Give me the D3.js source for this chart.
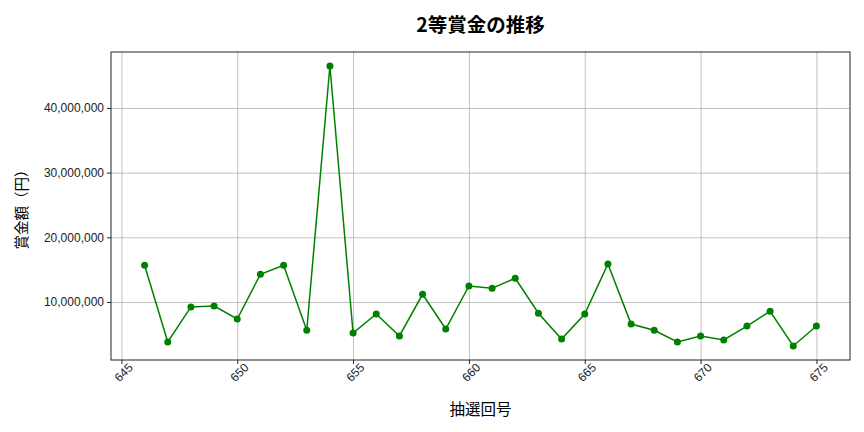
<!DOCTYPE html>
<html>
<head>
<meta charset="utf-8">
<script src="https://cdn.jsdelivr.net/npm/d3@7"></script>
<style>
  body { margin: 0; background: #fff; }
  svg { font-family: "Noto Sans CJK JP", "Noto Sans", sans-serif; }
  .grid line { stroke: #b0b0b0; stroke-width: 0.8; }
  .grid path { display: none; }
  .axis path, .axis line { stroke: #222; }
  .axis text { fill: #222; font-size: 12px; }
</style>
</head>
<body>
<div id="chart"></div>
<script>
// 抽選回
var draws = [646, 647, 648, 649, 650, 651, 652, 653, 654, 655,
             656, 657, 658, 659, 660, 661, 662, 663, 664, 665,
             666, 667, 668, 669, 670, 671, 672, 673, 674, 675];
// 2等賞金 (円)
var prizes = [15680000, 3810000, 9230000, 9380000, 7370000, 14290000, 15680000, 5620000, 46490000, 5200000,
              8140000, 4740000, 11190000, 5820000, 12480000, 12120000, 13670000, 8250000, 4270000, 8140000,
              15880000, 6590000, 5620000, 3810000, 4740000, 4120000, 6280000, 8560000, 3190000, 6280000];
var xTicks = [645, 650, 655, 660, 665, 670, 675];
var yTicks = [10000000, 20000000, 30000000, 40000000];

var W = 864, H = 432;
var margin = { top: 52, right: 14, bottom: 72, left: 111 };
var w = W - margin.left - margin.right;
var h = H - margin.top - margin.bottom;

var svg = d3.select("#chart").append("svg")
    .attr("width", W)
    .attr("height", H);

var g = svg.append("g")
    .attr("transform", "translate(" + margin.left + "," + margin.top + ")");

// matplotlib style 5% margins
var xMin = d3.min(draws), xMax = d3.max(draws);
var xPad = (xMax - xMin) * 0.05;
var x = d3.scaleLinear().domain([xMin - xPad, xMax + xPad]).range([0, w]);

var yMin = d3.min(prizes), yMax = d3.max(prizes);
var yPad = (yMax - yMin) * 0.05;
var y = d3.scaleLinear().domain([yMin - yPad, yMax + yPad]).range([h, 0]);

// grid
g.append("g").attr("class", "grid")
    .attr("transform", "translate(0," + h + ")")
    .call(d3.axisBottom(x).tickValues(xTicks).tickSize(-h).tickFormat(""));
g.append("g").attr("class", "grid")
    .call(d3.axisLeft(y).tickValues(yTicks).tickSize(-w).tickFormat(""));

// line
var line = d3.line()
    .x(function (d, i) { return x(draws[i]); })
    .y(function (d) { return y(d); });

g.append("path")
    .datum(prizes)
    .attr("fill", "none")
    .attr("stroke", "#008000")
    .attr("stroke-width", 1.5)
    .attr("d", line);

g.selectAll("circle.pt")
    .data(prizes)
    .enter()
    .append("circle")
    .attr("class", "pt")
    .attr("cx", function (d, i) { return x(draws[i]); })
    .attr("cy", function (d) { return y(d); })
    .attr("r", 3.5)
    .attr("fill", "#008000");

// axes
var xAxis = g.append("g").attr("class", "axis")
    .attr("transform", "translate(0," + h + ")")
    .call(d3.axisBottom(x).tickValues(xTicks).tickSize(4).tickSizeOuter(0).tickFormat(d3.format("d")));
xAxis.select(".domain").remove();
xAxis.selectAll("text")
    .attr("text-anchor", "end")
    .attr("dx", "0.2em")
    .attr("dy", "0.6em")
    .attr("transform", "rotate(-45)");

var yAxis = g.append("g").attr("class", "axis")
    .call(d3.axisLeft(y).tickValues(yTicks).tickSize(4).tickFormat(d3.format(",")));
yAxis.select(".domain").remove();

// frame
g.append("rect")
    .attr("width", w)
    .attr("height", h)
    .attr("fill", "none")
    .attr("stroke", "#222")
    .attr("stroke-width", 1);

// titles
svg.append("text")
    .attr("x", margin.left + w / 2)
    .attr("y", 32)
    .attr("text-anchor", "middle")
    .style("font-size", "19.5px")
    .style("font-weight", "bold")
    .text("2等賞金の推移");

svg.append("text")
    .attr("x", margin.left + w / 2)
    .attr("y", 415)
    .attr("text-anchor", "middle")
    .style("font-size", "15.5px")
    .text("抽選回号");

svg.append("text")
    .attr("transform", "translate(27," + (margin.top + h / 2) + ") rotate(-90)")
    .attr("text-anchor", "middle")
    .style("font-size", "14.5px")
    .text("賞金額（円）");
</script>
</body>
</html>
